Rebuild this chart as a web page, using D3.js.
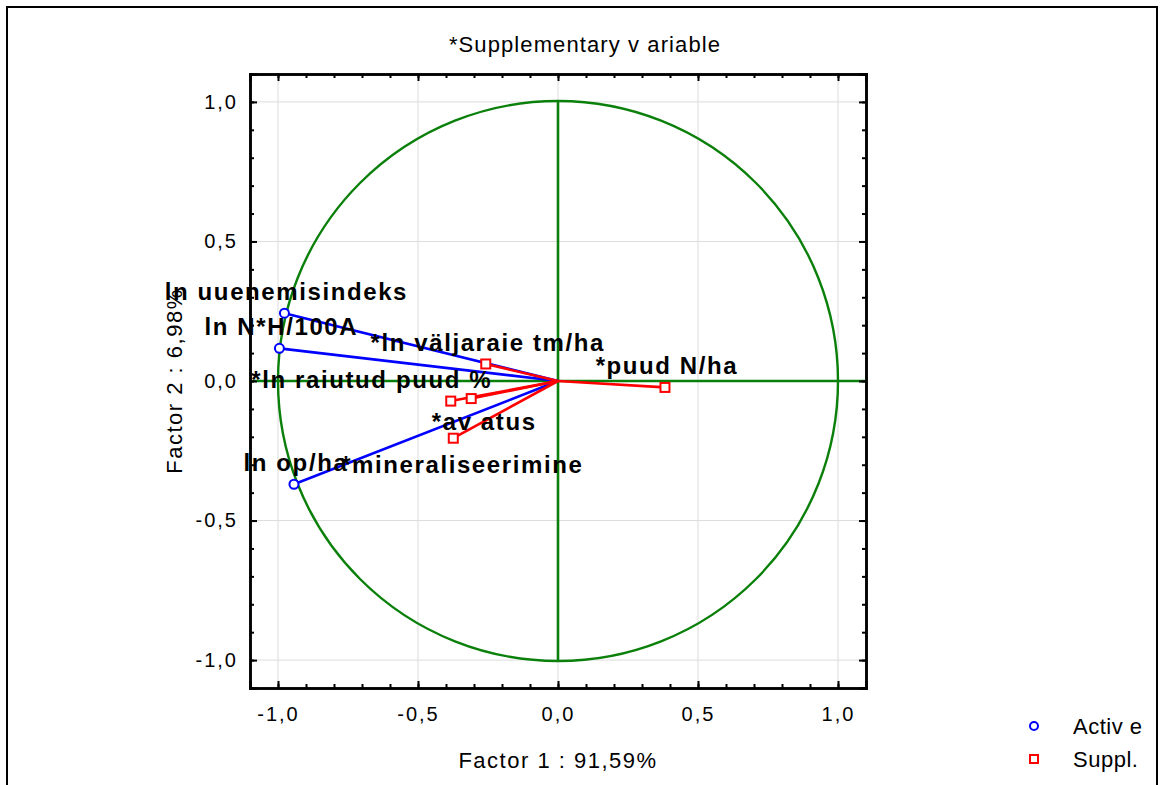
<!DOCTYPE html>
<html>
<head>
<meta charset="utf-8">
<script src="https://cdn.jsdelivr.net/npm/d3@7"></script>
<style>
  body { margin: 0; background: #fff; }
  svg { display: block; font-family: "Liberation Sans", Arial, sans-serif; }
</style>
</head>
<body>
<svg id="chart"></svg>
<script>
// factor loadings
const variables = ['ln uuenemisindeks', 'ln N*H/100A', 'ln op/ha',
  '*ln väljaraie tm/ha', '*puud N/ha', '*ln raiutud puud %', '*av atus', '*mineraliseerimine'];
const factor1 = [-0.977, -0.995, -0.943, -0.258, 0.382, -0.383, -0.310, -0.374];
const factor2 = [0.243, 0.117, -0.370, 0.061, -0.023, -0.072, -0.063, -0.205];
const varType = ['active', 'active', 'active', 'suppl', 'suppl', 'suppl', 'suppl', 'suppl'];
const majorTicks = [-1.0, -0.5, 0.0, 0.5, 1.0];
const minorTicks = d3.range(-10, 11).map((i) => i / 10);
const legendItems = ['Activ e', 'Suppl.'];

// labels that were pushed around in the original to avoid overlaps
const labelShift = {
  '*ln raiutud puud %': [-79, -13],
  '*av atus': [13, 31],
  '*mineraliseerimine': [9, 35],
};

const W = 1163, H = 785;
const margin = { top: 74, right: 297, bottom: 97, left: 250 };
const width = W - margin.left - margin.right;
const height = H - margin.top - margin.bottom;

const blue = '#0000ff', red = '#ff0000', green = '#0a800a';

const svgEl = d3.select('#chart').attr('width', W).attr('height', H);
svgEl.append('rect').attr('width', W).attr('height', H).attr('fill', '#fff');
svgEl.append('rect')
  .attr('x', 7).attr('y', 7).attr('width', 1150).attr('height', 820)
  .attr('fill', 'none').attr('stroke', '#000').attr('stroke-width', 2);

const x = d3.scaleLinear().domain([-1.1, 1.1]).range([0, width]);
const y = d3.scaleLinear().domain([-1.1, 1.1]).range([height, 0]);

// axis titles go under the plot so point labels can cover them
svgEl.append('text')
  .attr('x', 585).attr('y', 52).attr('text-anchor', 'middle')
  .attr('font-size', 22).attr('letter-spacing', 1.1)
  .text('*Supplementary v ariable');
svgEl.append('text')
  .attr('x', margin.left + x(0)).attr('y', 768).attr('text-anchor', 'middle')
  .attr('font-size', 22).attr('letter-spacing', 1.5)
  .text('Factor 1 : 91,59%');
svgEl.append('text')
  .attr('transform', `translate(182,${margin.top + y(0)}) rotate(-90)`)
  .attr('text-anchor', 'middle')
  .attr('font-size', 22).attr('letter-spacing', 1.5)
  .text('Factor 2 : 6,98%');

const svg = svgEl.append('g').attr('transform', `translate(${margin.left},${margin.top})`);

const fmt = (d) => d3.format('.1f')(d).replace('.', ',').replace('−', '-');

// grid
svg.append('g').selectAll('line').data(majorTicks).join('line')
  .attr('x1', (d) => x(d)).attr('x2', (d) => x(d)).attr('y1', 0).attr('y2', height)
  .attr('stroke', '#dcdcdc').attr('stroke-width', 1);
svg.append('g').selectAll('line').data(majorTicks).join('line')
  .attr('y1', (d) => y(d)).attr('y2', (d) => y(d)).attr('x1', 0).attr('x2', width)
  .attr('stroke', '#dcdcdc').attr('stroke-width', 1);

// unit circle and axes through origin
svg.append('circle')
  .attr('cx', x(0)).attr('cy', y(0)).attr('r', x(1) - x(0))
  .attr('fill', 'none').attr('stroke', green).attr('stroke-width', 2.4);
svg.append('line')
  .attr('x1', 0).attr('x2', width).attr('y1', y(0)).attr('y2', y(0))
  .attr('stroke', green).attr('stroke-width', 2.6);
svg.append('line')
  .attr('x1', x(0)).attr('x2', x(0)).attr('y1', y(1)).attr('y2', y(-1))
  .attr('stroke', green).attr('stroke-width', 2.6);

// frame axes, ticks pointing inwards
function styleAxis(g) {
  g.select('.domain').attr('stroke-width', 2.5);
  g.selectAll('.tick line').attr('stroke-width', 2);
  g.selectAll('text').attr('font-size', 20).attr('letter-spacing', 2).attr('fill', '#000');
}
const minorAxis = (axis) => axis.tickValues(minorTicks).tickSize(-4).tickFormat('');
const majorAxis = (axis) => axis.tickValues(majorTicks).tickSize(-7).tickPadding(19);

svg.append('g').attr('transform', `translate(0,${height})`)
  .call(minorAxis(d3.axisBottom(x))).call(styleAxis);
svg.append('g').attr('transform', `translate(0,${height})`)
  .call(majorAxis(d3.axisBottom(x)).tickFormat(fmt)).call(styleAxis);
svg.append('g').call(minorAxis(d3.axisTop(x))).call(styleAxis);
svg.append('g').call(majorAxis(d3.axisTop(x)).tickFormat('')).call(styleAxis);
svg.append('g').call(minorAxis(d3.axisLeft(y))).call(styleAxis);
svg.append('g').call(majorAxis(d3.axisLeft(y)).tickFormat(fmt).tickPadding(12)).call(styleAxis);
svg.append('g').attr('transform', `translate(${width},0)`)
  .call(minorAxis(d3.axisRight(y))).call(styleAxis);
svg.append('g').attr('transform', `translate(${width},0)`)
  .call(majorAxis(d3.axisRight(y)).tickFormat('')).call(styleAxis);

// vectors
const pts = variables.map((name, i) => ({ name, f1: factor1[i], f2: factor2[i], type: varType[i] }));
const colorOf = (d) => (d.type === 'active' ? blue : red);

svg.append('g').selectAll('line').data(pts).join('line')
  .attr('x1', x(0)).attr('y1', y(0))
  .attr('x2', (d) => x(d.f1)).attr('y2', (d) => y(d.f2))
  .attr('stroke', colorOf).attr('stroke-width', 2.6);

const markers = svg.append('g');
markers.selectAll('circle').data(pts.filter((d) => d.type === 'active')).join('circle')
  .attr('cx', (d) => x(d.f1)).attr('cy', (d) => y(d.f2)).attr('r', 4.5)
  .attr('fill', '#fff').attr('stroke', blue).attr('stroke-width', 2);
markers.selectAll('rect').data(pts.filter((d) => d.type === 'suppl')).join('rect')
  .attr('x', (d) => x(d.f1) - 4.5).attr('y', (d) => y(d.f2) - 4.5)
  .attr('width', 9).attr('height', 9)
  .attr('fill', '#fff').attr('stroke', red).attr('stroke-width', 2);

// point labels
svg.append('g').selectAll('text').data(pts).join('text')
  .attr('x', (d) => x(d.f1) + (labelShift[d.name] ? labelShift[d.name][0] : 2))
  .attr('y', (d) => y(d.f2) + (labelShift[d.name] ? labelShift[d.name][1] : -13))
  .attr('text-anchor', 'middle')
  .attr('font-size', 24).attr('font-weight', 'bold').attr('letter-spacing', 1.6)
  .attr('fill', '#000')
  .text((d) => d.name);

// legend
const legend = svgEl.append('g').attr('transform', 'translate(1034,726)');
legendItems.forEach((label, i) => {
  const row = legend.append('g').attr('transform', `translate(0,${i * 33})`);
  if (i === 0) {
    row.append('circle').attr('r', 4).attr('fill', '#fff').attr('stroke', blue).attr('stroke-width', 2);
  } else {
    row.append('rect').attr('x', -4).attr('y', -4).attr('width', 8).attr('height', 8)
      .attr('fill', '#fff').attr('stroke', red).attr('stroke-width', 2);
  }
  row.append('text').attr('x', 39).attr('y', 8)
    .attr('font-size', 22).attr('letter-spacing', 0.5)
    .text(label);
});
</script>
</body>
</html>
